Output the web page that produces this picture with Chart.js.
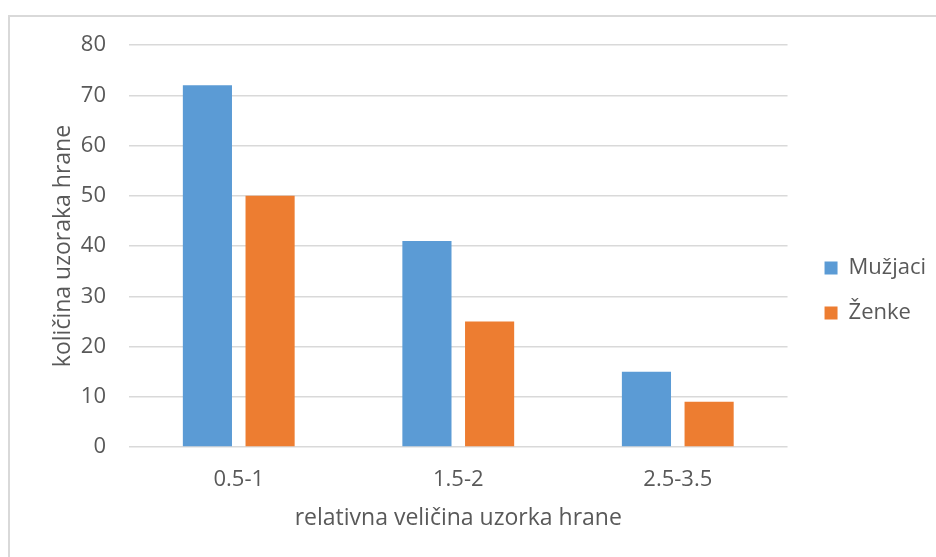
<!DOCTYPE html>
<html>
<head>
<meta charset="utf-8">
<script src="https://cdn.jsdelivr.net/npm/chart.js@4/dist/chart.umd.min.js"></script>
<style>
  html, body { margin: 0; padding: 0; background: #fff; }
  #wrap { position: relative; width: 936px; height: 557px; overflow: hidden; }
  #frame { position: absolute; left: 8px; top: 15px; width: 2000px; height: 2000px;
           border-left: 2px solid #d9d9d9; border-top: 2px solid #d9d9d9; }
  #box { position: absolute; left: 0; top: 0; width: 936px; height: 557px; }
</style>
</head>
<body>
<div id="wrap">
  <div id="frame"></div>
  <div id="box"><canvas id="chartA"></canvas></div>
</div>
<script>
const categories = ['0.5-1', '1.5-2', '2.5-3.5'];
const muzjaci = [72, 41, 15];
const zenke = [50, 25, 9];
const seriesNames = ['Mužjaci', 'Ženke'];

const textColor = '#595959';
const fontFamily = '"Open Sans", Lato, sans-serif';
const fontSize = 22;
const titleSize = 23;

const data = {
    labels: categories,
    datasets: [{
        label: seriesNames[0],
        backgroundColor: '#5b9bd5',
        data: muzjaci,
        barPercentage: 0.784,
        categoryPercentage: 0.571,
    }, {
        label: seriesNames[1],
        backgroundColor: '#ed7d31',
        data: zenke,
        barPercentage: 0.784,
        categoryPercentage: 0.571,
    }],
};

const config = {
    type: 'bar',
    data: data,
    options: {
        responsive: true,
        maintainAspectRatio: false,
        animation: false,
        layout: {padding: {top: 45, bottom: 21, left: 20, right: 0}},
        plugins: {
            legend: {
                position: 'right',
                labels: {
                    color: textColor,
                    font: {family: fontFamily, size: fontSize},
                    boxWidth: 13,
                    boxHeight: 13,
                    padding: 23,
                },
            },
            tooltip: {enabled: false},
        },
        scales: {
            x: {
                grid: {display: false, drawTicks: false},
                border: {display: false},
                ticks: {color: textColor, font: {family: fontFamily, size: fontSize}, padding: 20},
                title: {
                    display: true,
                    text: 'relativna veličina uzorka hrane',
                    color: textColor,
                    font: {family: fontFamily, size: titleSize},
                    padding: {top: 0, bottom: 4},
                },
                afterFit: function (scale) { scale.height = 89; },
            },
            y: {
                min: 0,
                max: 80,
                ticks: {stepSize: 10, color: textColor, font: {family: fontFamily, size: fontSize}, padding: 23},
                grid: {color: '#d9d9d9', lineWidth: 1.5, drawTicks: false},
                border: {display: false},
                title: {
                    display: true,
                    text: 'količina uzoraka hrane',
                    color: textColor,
                    font: {family: fontFamily, size: titleSize},
                    padding: 30,
                },
                afterFit: function (scale) { scale.width = 109; },
            },
            gap: {
                position: 'right',
                grid: {display: false},
                border: {display: false},
                ticks: {display: false},
                afterFit: function (scale) { scale.width = 14; },
            },
        },
    },
};
const chartEle = document.getElementById('chartA').getContext('2d');
const chartA = new Chart(chartEle, config);
</script>
</body>
</html>
